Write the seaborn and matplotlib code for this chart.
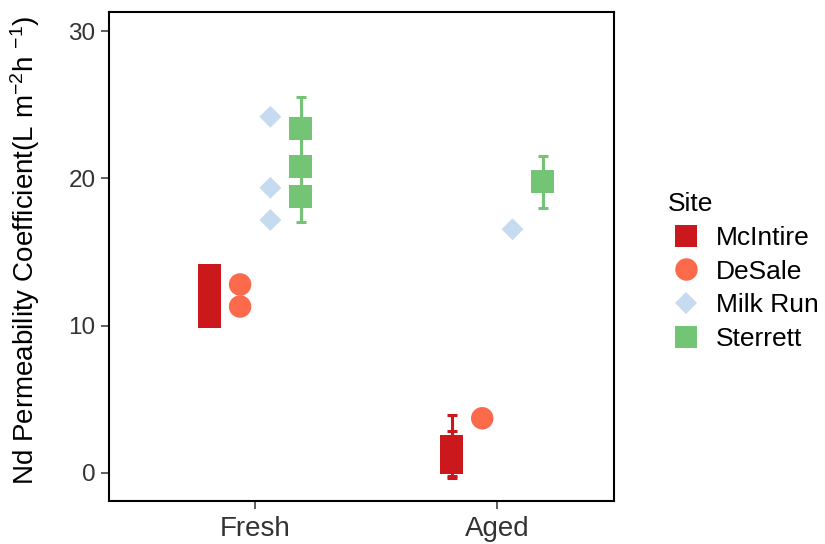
import matplotlib
matplotlib.use("Agg")
import matplotlib.pyplot as plt
import seaborn as sns
import numpy as np
import pandas as pd

# ---- data ----
conditions = ["Fresh", "Aged"]
sites = ["McIntire", "DeSale", "Milk Run", "Sterrett"]

fresh_mcintire = [13.40, 12.00, 10.63]
fresh_mcintire_err = [0.5, 0.6, 0.5]
fresh_desale = [12.79, 11.29]
fresh_desale_err = [np.nan, np.nan]
fresh_milkrun = [24.18, 19.36, 17.17]
fresh_milkrun_err = [np.nan, np.nan, np.nan]
fresh_sterrett = [23.40, 20.82, 18.78]
fresh_sterrett_err = [2.14, 0.5, 1.73]

aged_mcintire = [1.77, 1.32, 0.69]
aged_mcintire_err = [2.15, 1.53, 0.4]
aged_desale = [3.70]
aged_desale_err = [np.nan]
aged_milkrun = [16.54]
aged_milkrun_err = [np.nan]
aged_sterrett = [19.77]
aged_sterrett_err = [1.77]

yticks = [0, 10, 20, 30]
ylabel = "Nd Permeability Coefficient(L m$^{-2}$h $^{-1}$)"

palette = {"McIntire": "#CB181D", "DeSale": "#FB6A4A",
           "Milk Run": "#C6DBEF", "Sterrett": "#74C476"}
markers = {"McIntire": "s", "DeSale": "o", "Milk Run": "D", "Sterrett": "s"}
sizes = {"McIntire": 274, "DeSale": 262, "Milk Run": 125, "Sterrett": 274}

rows = []
series = {
    ("Fresh", "McIntire"): (fresh_mcintire, fresh_mcintire_err),
    ("Fresh", "DeSale"): (fresh_desale, fresh_desale_err),
    ("Fresh", "Milk Run"): (fresh_milkrun, fresh_milkrun_err),
    ("Fresh", "Sterrett"): (fresh_sterrett, fresh_sterrett_err),
    ("Aged", "McIntire"): (aged_mcintire, aged_mcintire_err),
    ("Aged", "DeSale"): (aged_desale, aged_desale_err),
    ("Aged", "Milk Run"): (aged_milkrun, aged_milkrun_err),
    ("Aged", "Sterrett"): (aged_sterrett, aged_sterrett_err),
}
dodge_width = 0.5
offsets = {s: (i - (len(sites) - 1) / 2) * dodge_width / len(sites) for i, s in enumerate(sites)}
for (cond, site), (vals, errs) in series.items():
    for v, e in zip(vals, errs):
        rows.append({"Condition": cond, "Site": site, "value": v, "err": e,
                     "xpos": conditions.index(cond) + offsets[site]})
df = pd.DataFrame(rows)
df["Site"] = pd.Categorical(df["Site"], categories=sites, ordered=True)

# ---- style ----
sns.set_style("ticks")
plt.rcParams["font.family"] = ["Liberation Sans", "DejaVu Sans"]
plt.rcParams["mathtext.fontset"] = "custom"
plt.rcParams["mathtext.rm"] = "Liberation Sans"
plt.rcParams["mathtext.it"] = "Liberation Sans:italic"
plt.rcParams["mathtext.default"] = "regular"

fig = plt.figure(figsize=(8.25, 5.44), dpi=100)
ax = fig.add_axes([109.3 / 825, 1 - 501 / 544, (614 - 109.3) / 825, (501 - 11.7) / 544])

# error bars under the markers
for site in sites:
    sub = df[(df["Site"] == site) & df["err"].notna()]
    if len(sub):
        ax.errorbar(sub["xpos"], sub["value"], yerr=sub["err"], fmt="none",
                    ecolor=palette[site], elinewidth=2.2, capsize=3.6,
                    capthick=2.2, zorder=1)

sns.scatterplot(data=df, x="xpos", y="value", hue="Site", style="Site",
                size="Site", palette=palette, markers=markers, sizes=sizes,
                hue_order=sites, style_order=sites, size_order=sites,
                linewidth=0, alpha=1, ax=ax, zorder=3)

ax.set_xlim(-0.6026, 1.4816)
ax.set_ylim(-1.92, 31.32)
ax.set_xticks(range(len(conditions)))
ax.set_xticklabels(conditions)
ax.set_yticks(yticks)
ax.set_xlabel("")
ax.set_ylabel(ylabel, fontsize=20, color="black")
ax.yaxis.set_label_coords(-0.133, 0.513)

for sp in ax.spines.values():
    sp.set_linewidth(1.5)
    sp.set_color("black")
ax.tick_params(axis="both", direction="out", length=5.5, width=1.1, color="#333333")
ax.tick_params(axis="x", labelsize=20, labelcolor="#333333", pad=5.5)
ax.tick_params(axis="y", labelsize=17.5, labelcolor="#333333", pad=4.5)

sns.move_legend(ax, "upper left", bbox_to_anchor=(668 / 825, 1 - 192 / 544),
                bbox_transform=fig.transFigure, frameon=False, title="Site",
                fontsize=19, title_fontsize=19, borderpad=0, borderaxespad=0,
                handlelength=1.4, handletextpad=0.42, labelspacing=0.37,
                alignment="left")
leg = ax.get_legend()
for t in leg.get_texts():
    t.set_color("black")
leg.get_title().set_color("black")

fig.savefig("out.png", dpi=100)
